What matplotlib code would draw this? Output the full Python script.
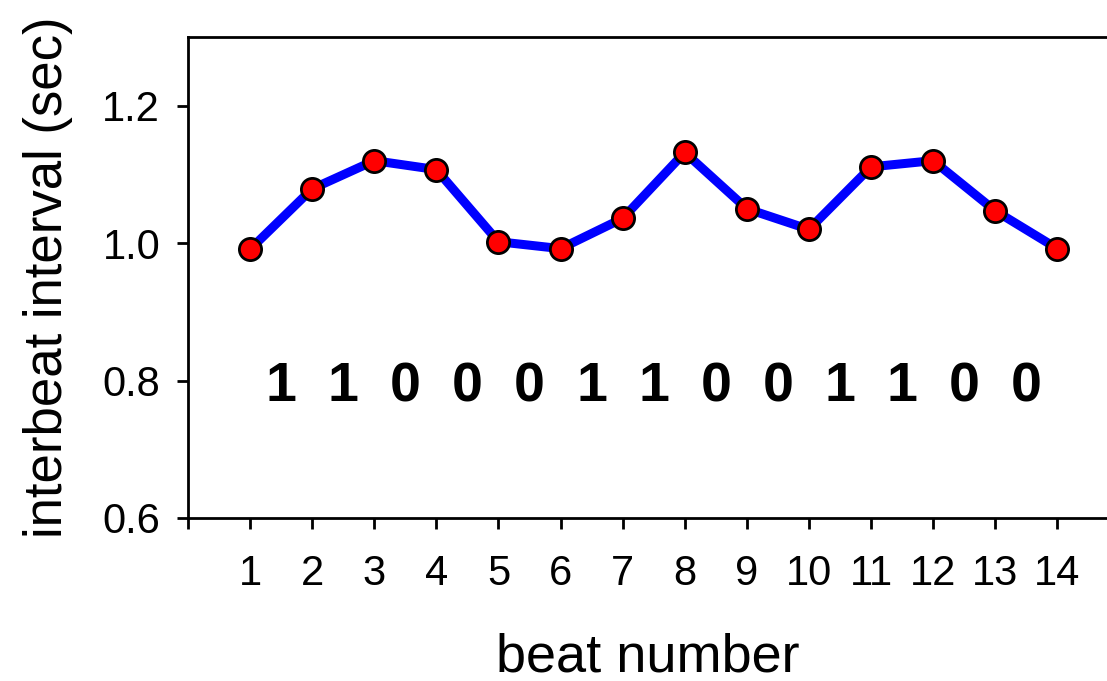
import matplotlib
matplotlib.use("Agg")
import matplotlib.pyplot as plt

beats = list(range(1, 15))
intervals = [0.991, 1.079, 1.120, 1.107, 1.002, 0.992, 1.036, 1.132, 1.050, 1.020, 1.111, 1.120, 1.047, 0.992]
bits = ["1", "1", "0", "0", "0", "1", "1", "0", "0", "1", "1", "0", "0"]
yticks = [0.6, 0.8, 1.0, 1.2]
ytick_labels = ["0.6", "0.8", "1.0", "1.2"]

plt.rcParams['font.family'] = ['Liberation Sans', 'DejaVu Sans']

fig = plt.figure(figsize=(11.07, 6.81), dpi=100)
ax = fig.add_axes([0.1698, 0.2394, 0.8302, 0.7063])

ax.plot(beats, intervals, color='#0000ff', lw=6.5, marker='o', ms=16,
        mfc='#ff0000', mec='black', mew=2, zorder=3, clip_on=False)

for i, b in enumerate(bits):
    ax.text(beats[i] + 0.5, 0.790, b, ha='center', va='center',
            fontsize=40, fontweight='bold')

ax.set_xlim(0, 14.8)
ax.set_ylim(0.6, 1.3)
ax.set_xticks([0] + beats)
ax.set_xticklabels([""] + [str(b) for b in beats])
ax.set_yticks(yticks)
ax.set_yticklabels(ytick_labels)
ax.tick_params(axis='both', labelsize=30, length=8, width=2, direction='out', pad=12)
ax.tick_params(axis='x', pad=18)

for s in ['left', 'bottom', 'top']:
    ax.spines[s].set_linewidth(2)
ax.spines['right'].set_visible(False)

ax.set_xlabel('beat number', fontsize=39, labelpad=28)
ax.set_ylabel('interbeat interval (sec)', fontsize=38, labelpad=21)

fig.savefig('out.png', dpi=100)
